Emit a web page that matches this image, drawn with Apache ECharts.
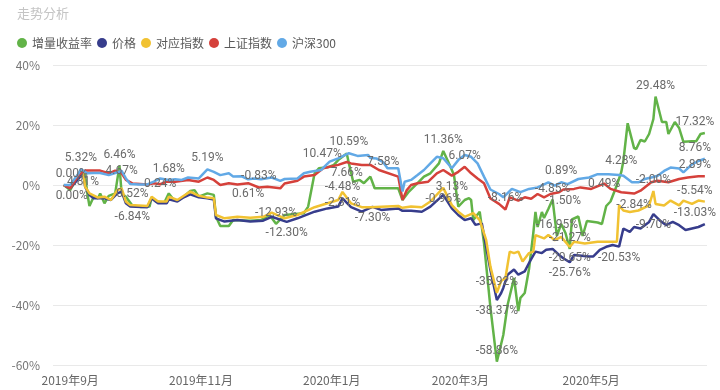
<!DOCTYPE html>
<html>
<head>
<meta charset="utf-8">
<script src="https://cdn.jsdelivr.net/npm/echarts@6/dist/echarts.min.js"></script>
<style>html,body{margin:0;padding:0;background:#fff;}#chart{width:720px;height:390px;}</style>
</head>
<body>
<div id="chart"></div>
<script>
const titleText = '走势分析';
const seriesNames = ['增量收益率', '价格', '对应指数', '上证指数', '沪深300'];
const xTickLabels = ['2019-09-01', '2019-11-01', '2020-01-01', '2020-03-01', '2020-05-01'];
const xRange = ['2019-08-24', '2020-06-24'];
const yTicks = [-60, -40, -20, 0, 20, 40];

const greenData = [['2019-08-29',0],['2019-09-01',-1.7],['2019-09-04',2.2],['2019-09-06',5],['2019-09-08',3.3],['2019-09-09',-2.8],['2019-09-10',-7],['2019-09-12',-3.9],['2019-09-14',-4.4],['2019-09-15',-2.8],['2019-09-17',-6.1],['2019-09-19',-3.6],['2019-09-22',-2.8],['2019-09-24',6.46],['2019-09-25',-2.8],['2019-09-27',-3.9],['2019-09-30',-6.84],['2019-10-04',-7.3],['2019-10-08',-7.2],['2019-10-09',-4.2],['2019-10-11',-5.5],['2019-10-15',-5.8],['2019-10-17',-2.8],['2019-10-19',-4.7],['2019-10-21',-5.3],['2019-10-24',-3.9],['2019-10-27',-2],['2019-10-29',-1.7],['2019-10-31',-3.9],['2019-11-04',-2.8],['2019-11-07',-3.3],['2019-11-08',-10.6],['2019-11-10',-13.7],['2019-11-14',-13.7],['2019-11-16',-11.7],['2019-11-24',-11.9],['2019-11-29',-11.7],['2019-12-03',-10],['2019-12-06',-12.93],['2019-12-10',-10],['2019-12-19',-9.4],['2019-12-21',-7.2],['2019-12-24',3.9],['2019-12-26',5.6],['2019-12-30',5.9],['2020-01-02',6.7],['2020-01-04',8.3],['2020-01-06',9.4],['2020-01-08',10.47],['2020-01-09',7.2],['2020-01-11',1.1],['2020-01-14',1.7],['2020-01-16',0.6],['2020-01-19',2.8],['2020-01-21',-1.1],['2020-02-01',-1.1],['2020-02-03',-5],['2020-02-06',-2.2],['2020-02-10',0.6],['2020-02-13',2.8],['2020-02-16',3.9],['2020-02-20',7.2],['2020-02-22',11.36],['2020-02-25',6.7],['2020-02-27',3.3],['2020-02-29',-7.2],['2020-03-03',-5],['2020-03-05',-4.4],['2020-03-06',-5],['2020-03-07',-11.7],['2020-03-10',-8.9],['2020-03-12',-19.4],['2020-03-15',-40.9],['2020-03-18',-58.86],['2020-03-19',-56],['2020-03-21',-50],['2020-03-23',-40],['2020-03-26',-31],['2020-03-28',-42],['2020-03-29',-37.6],['2020-03-31',-36],['2020-04-02',-28],['2020-04-04',-16],['2020-04-05',-9],['2020-04-06',-14],['2020-04-08',-9],['2020-04-09',-11],['2020-04-11',-8],['2020-04-13',-4.85],['2020-04-15',-16.95],['2020-04-17',-13],['2020-04-19',-16],['2020-04-21',-21.27],['2020-04-22',-11.5],['2020-04-25',-10.5],['2020-04-27',-17],['2020-04-29',-12],['2020-05-04',-12.5],['2020-05-06',-13],['2020-05-08',-7],['2020-05-10',-5.5],['2020-05-13',0],['2020-05-15',4.28],['2020-05-16',8],['2020-05-18',20.6],['2020-05-21',12.3],['2020-05-22',12],['2020-05-24',15],['2020-05-26',14.5],['2020-05-28',17],['2020-05-30',22],['2020-05-31',29.48],['2020-06-03',21],['2020-06-05',21],['2020-06-06',17],['2020-06-09',21],['2020-06-11',19],['2020-06-13',14.4],['2020-06-17',14.6],['2020-06-19',14.6],['2020-06-21',17],['2020-06-23',17.32]];

const navyData = [['2019-08-29',0],['2019-09-01',-1.1],['2019-09-05',2.2],['2019-09-07',3.9],['2019-09-08',-0.6],['2019-09-10',-3.3],['2019-09-12',-4.4],['2019-09-17',-4.4],['2019-09-20',-5],['2019-09-23',-2.8],['2019-09-25',-2.2],['2019-09-27',-6.1],['2019-09-29',-7.2],['2019-10-07',-7.4],['2019-10-09',-4.4],['2019-10-12',-6.1],['2019-10-16',-6.1],['2019-10-17',-4.8],['2019-10-21',-5.5],['2019-10-24',-4.1],['2019-10-27',-3.1],['2019-10-31',-4.1],['2019-11-04',-4.4],['2019-11-07',-4.8],['2019-11-08',-11.1],['2019-11-12',-12.2],['2019-11-18',-11.7],['2019-11-24',-12.2],['2019-11-30',-11.9],['2019-12-04',-10.6],['2019-12-11',-12.3],['2019-12-16',-11.1],['2019-12-24',-8.9],['2019-12-30',-7.8],['2020-01-04',-7.2],['2020-01-06',-4.48],['2020-01-10',-7.4],['2020-01-15',-8.9],['2020-01-20',-7.3],['2020-01-24',-8.3],['2020-02-01',-7.8],['2020-02-03',-8.6],['2020-02-07',-8.6],['2020-02-12',-8.9],['2020-02-16',-7.2],['2020-02-22',-3.3],['2020-02-26',-7.8],['2020-02-29',-10],['2020-03-03',-11.7],['2020-03-06',-11.1],['2020-03-08',-13.3],['2020-03-11',-12.8],['2020-03-13',-20.6],['2020-03-15',-28.3],['2020-03-18',-38.37],['2020-03-20',-36],['2020-03-21',-34.3],['2020-03-23',-29.9],['2020-03-26',-28.2],['2020-03-28',-29.9],['2020-03-31',-28.8],['2020-04-02',-26],['2020-04-05',-22.2],['2020-04-08',-22.7],['2020-04-10',-21.6],['2020-04-13',-21.3],['2020-04-16',-23.3],['2020-04-18',-24.4],['2020-04-21',-25.76],['2020-04-23',-23.3],['2020-04-30',-23.8],['2020-05-02',-23.8],['2020-05-05',-21.6],['2020-05-08',-20.6],['2020-05-11',-20],['2020-05-14',-20.53],['2020-05-16',-14.5],['2020-05-19',-15.6],['2020-05-21',-14],['2020-05-24',-14.5],['2020-05-28',-12.3],['2020-05-30',-9.7],['2020-06-02',-11.8],['2020-06-05',-13.4],['2020-06-08',-12.3],['2020-06-11',-13.4],['2020-06-14',-15],['2020-06-17',-14.5],['2020-06-20',-14],['2020-06-23',-13.03]];

const yellowData = [['2019-08-29',0],['2019-09-01',-0.6],['2019-09-05',3.9],['2019-09-07',4.81],['2019-09-08',-0.6],['2019-09-10',-2.8],['2019-09-14',-4.2],['2019-09-17',-3.9],['2019-09-20',-5],['2019-09-23',-1.7],['2019-09-25',-1.1],['2019-09-27',-5.5],['2019-09-29',-6.7],['2019-10-07',-7],['2019-10-09',-3.9],['2019-10-12',-5.5],['2019-10-16',-5.5],['2019-10-17',-3.9],['2019-10-21',-5],['2019-10-24',-3.6],['2019-10-27',-2.2],['2019-10-31',-3.6],['2019-11-04',-4.2],['2019-11-07',-4.4],['2019-11-08',-10],['2019-11-12',-11.1],['2019-11-18',-10.6],['2019-11-24',-10.9],['2019-11-30',-10.6],['2019-12-04',-9.2],['2019-12-10',-11.1],['2019-12-16',-10],['2019-12-24',-7.4],['2019-12-30',-6.1],['2020-01-04',-5],['2020-01-06',-2.31],['2020-01-10',-6.1],['2020-01-15',-7.4],['2020-01-19',-7.4],['2020-02-01',-7],['2020-02-03',-7.6],['2020-02-07',-7.2],['2020-02-12',-7.4],['2020-02-16',-5.5],['2020-02-22',-0.96],['2020-02-26',-6.7],['2020-02-29',-8.9],['2020-03-03',-10.6],['2020-03-07',-9.4],['2020-03-10',-11.7],['2020-03-13',-18.3],['2020-03-15',-27.2],['2020-03-18',-35.92],['2020-03-20',-32],['2020-03-22',-31],['2020-03-24',-22.2],['2020-03-26',-22.7],['2020-03-28',-22.2],['2020-03-30',-25.5],['2020-04-02',-22.7],['2020-04-04',-22.2],['2020-04-05',-16.7],['2020-04-09',-17.8],['2020-04-11',-16.7],['2020-04-14',-18.4],['2020-04-17',-17.3],['2020-04-21',-20.65],['2020-04-23',-18.9],['2020-04-28',-19.5],['2020-05-04',-18.9],['2020-05-13',-18.9],['2020-05-14',-6.8],['2020-05-16',-8.5],['2020-05-19',-9],['2020-05-23',-8.5],['2020-05-28',-6.8],['2020-05-30',-2],['2020-05-31',-6.3],['2020-06-04',-6.8],['2020-06-07',-5.2],['2020-06-11',-6.8],['2020-06-13',-5.2],['2020-06-17',-6.3],['2020-06-20',-5.2],['2020-06-23',-5.54]];

const redData = [['2019-08-29',0],['2019-09-01',-1.1],['2019-09-05',3.3],['2019-09-08',4.8],['2019-09-15',4.8],['2019-09-19',3.9],['2019-09-22',4.8],['2019-09-25',3.9],['2019-09-27',1.7],['2019-09-30',0.52],['2019-10-07',0.2],['2019-10-10',0.6],['2019-10-13',0.24],['2019-10-16',1.1],['2019-10-20',1.1],['2019-10-26',1.7],['2019-10-31',1.1],['2019-11-04',2.5],['2019-11-07',1.7],['2019-11-10',0],['2019-11-14',0.6],['2019-11-18',0.2],['2019-11-23',0.61],['2019-11-28',-0.83],['2019-12-02',-0.6],['2019-12-08',-1.1],['2019-12-10',0.5],['2019-12-16',1.4],['2019-12-19',2.8],['2019-12-24',3.3],['2019-12-28',5.6],['2020-01-04',6.7],['2020-01-08',7.66],['2020-01-10',7.2],['2020-01-15',6.7],['2020-01-19',6.7],['2020-01-23',5],['2020-02-01',2.8],['2020-02-03',-5],['2020-02-05',-1.7],['2020-02-07',0],['2020-02-10',0.6],['2020-02-15',1.1],['2020-02-19',3.9],['2020-02-22',5],['2020-02-26',3.13],['2020-02-29',4.4],['2020-03-03',6.07],['2020-03-06',3.9],['2020-03-09',2.2],['2020-03-12',0.6],['2020-03-15',-4.5],['2020-03-19',-6.3],['2020-03-22',-8.16],['2020-03-24',-4.1],['2020-03-28',-5.2],['2020-03-31',-4.1],['2020-04-03',-4.6],['2020-04-06',-3],['2020-04-09',-4.1],['2020-04-12',-3],['2020-04-16',-2.4],['2020-04-18',-1.5],['2020-04-23',-1.3],['2020-04-26',-0.8],['2020-05-01',-1.3],['2020-05-07',0.49],['2020-05-10',-1.3],['2020-05-15',-2.4],['2020-05-21',-2.84],['2020-05-24',-1.9],['2020-05-29',0.9],['2020-06-01',1.4],['2020-06-06',0.9],['2020-06-11',2],['2020-06-15',2.5],['2020-06-20',2.9],['2020-06-23',2.89]];

const blueData = [['2019-08-29',0],['2019-09-01',0],['2019-09-05',3.9],['2019-09-06',5.32],['2019-09-09',3.9],['2019-09-12',4],['2019-09-15',4],['2019-09-19',3.3],['2019-09-22',4],['2019-09-25',4.67],['2019-09-27',2.2],['2019-09-29',0.3],['2019-10-03',0.2],['2019-10-07',0.2],['2019-10-10',1.1],['2019-10-13',2.2],['2019-10-17',1.68],['2019-10-20',1.9],['2019-10-23',1.7],['2019-10-26',2.5],['2019-10-31',2.2],['2019-11-04',5.19],['2019-11-07',4.4],['2019-11-10',3.3],['2019-11-14',3.9],['2019-11-16',2.8],['2019-11-20',2.9],['2019-11-23',1.9],['2019-11-26',2.2],['2019-11-29',1.9],['2019-12-04',2.5],['2019-12-08',1.4],['2019-12-10',2],['2019-12-16',2.2],['2019-12-19',3.9],['2019-12-22',4.4],['2019-12-27',5],['2019-12-31',7.8],['2020-01-04',8.9],['2020-01-09',10.59],['2020-01-13',9.7],['2020-01-18',10],['2020-01-19',9],['2020-01-22',8.8],['2020-01-25',7.58],['2020-01-27',5.6],['2020-02-01',5.6],['2020-02-03',-2.2],['2020-02-04',1.1],['2020-02-07',1.7],['2020-02-10',3.3],['2020-02-13',5],['2020-02-16',7.2],['2020-02-19',9.4],['2020-02-22',8.9],['2020-02-26',5.6],['2020-02-29',8.3],['2020-03-03',10],['2020-03-06',9.4],['2020-03-09',7.2],['2020-03-12',2.8],['2020-03-15',-1.5],['2020-03-19',-3],['2020-03-21',-4.1],['2020-03-25',-1.3],['2020-03-29',-2.4],['2020-04-02',-1.3],['2020-04-06',-0.8],['2020-04-11',0.9],['2020-04-14',-0.2],['2020-04-17',0.89],['2020-04-20',0.3],['2020-04-25',2],['2020-04-30',2.5],['2020-05-04',3.6],['2020-05-09',3.6],['2020-05-14',3.3],['2020-05-16',3.1],['2020-05-20',0.9],['2020-05-23',0.9],['2020-05-26',2],['2020-05-29',2.5],['2020-06-01',3.1],['2020-06-04',4.7],['2020-06-07',5.8],['2020-06-11',5.5],['2020-06-13',4.2],['2020-06-17',6.9],['2020-06-20',8],['2020-06-23',8.76]];

// which points carry a visible value label, and where it sits
const labelPlan = [
  {'2019-08-29':'top','2019-09-24':'top','2019-09-30':'bottom','2019-12-06':'top','2020-01-08':'left','2020-02-22':'top','2020-03-18':'top','2020-04-13':'top','2020-04-15':'top','2020-04-21':'top','2020-05-15':'top','2020-05-31':'top','2020-06-23':'top'},
  {'2019-08-29':'bottom','2019-12-11':'bottom','2020-01-06':'top','2020-01-20':'bottom','2020-03-18':'bottom','2020-04-21':'bottom','2020-05-14':'bottom','2020-05-30':'bottom','2020-06-23':'top'},
  {'2019-09-07':'bottom','2020-01-06':'bottom','2020-02-22':'bottom','2020-03-18':'top','2020-04-21':'bottom','2020-05-30':'top','2020-06-23':'top'},
  {'2019-09-30':'bottom','2019-10-13':'inside','2019-11-23':'bottom','2019-11-28':'top','2020-01-08':'bottom','2020-02-26':'bottom','2020-03-03':'top','2020-03-22':'top','2020-04-18':'bottom','2020-05-07':'inside','2020-05-21':'bottom','2020-06-23':'top'},
  {'2019-09-06':'top','2019-09-25':'inside','2019-10-17':'top','2019-11-04':'top','2020-01-09':'top','2020-01-25':'inside','2020-04-17':'top','2020-06-23':'top'}
];

const seriesData = [greenData, navyData, yellowData, redData, blueData];
const colors = ['#62b348', '#373d8c', '#f1c232', '#d5413b', '#62a9e6'];

function toTs(s) {
  const p = s.split('-').map(Number);
  return new Date(p[0], p[1] - 1, p[2]).getTime();
}
const shownTicks = xTickLabels.map(toTs);
const DAY = 86400000;

const chart = echarts.init(document.getElementById('chart'), null, {renderer: 'canvas'});

const series = seriesNames.map((name, si) => {
  const arr = seriesData[si];
  const plan = labelPlan[si];
  return {
    name: name,
    type: 'line',
    symbol: 'circle',
    symbolSize: 0,
    showSymbol: true,
    showAllSymbol: true,
    lineStyle: {width: 2.5, color: colors[si]},
    itemStyle: {color: colors[si]},
    emphasis: {disabled: true},
    label: {
      show: false,
      color: '#6a6a6a',
      fontSize: 12,
      fontFamily: 'Roboto, "Noto Sans", sans-serif',
      formatter: p => p.value[1].toFixed(2) + '%'
    },
    data: arr.map((d, i) => {
      const pos = plan[d[0]];
      if (!pos) return {value: [d[0], d[1]]};
      let offset = [0, 0];
      if (i === 0) offset = [8, 0];
      if (i === arr.length - 1) offset = [-10, 0];
      return {value: [d[0], d[1]], label: {show: true, position: pos, offset: offset}};
    })
  };
});

chart.setOption({
  animation: false,
  color: colors,
  title: {
    text: titleText, left: 12, top: 2,
    textStyle: {color: '#c4c4c4', fontSize: 13, fontWeight: 'normal', fontFamily: '"Noto Sans CJK SC", sans-serif'}
  },
  legend: {
    data: seriesNames, left: 12, top: 32, icon: 'circle', itemWidth: 10, itemHeight: 10, itemGap: 5,
    textStyle: {color: '#595959', fontSize: 12, fontFamily: '"Noto Sans CJK SC", sans-serif'}
  },
  grid: {left: 53, right: 13, top: 65, bottom: 25, containLabel: false},
  xAxis: {
    type: 'time',
    min: toTs(xRange[0]),
    max: toTs(xRange[1]),
    minInterval: 28 * DAY,
    maxInterval: 31 * DAY,
    axisLine: {show: false},
    axisTick: {show: false},
    splitLine: {show: false},
    axisLabel: {
      color: '#666', fontSize: 12, margin: 9, hideOverlap: false,
      fontFamily: '"Noto Sans CJK SC", sans-serif',
      formatter: v => {
        const d = new Date(v);
        const t = new Date(d.getFullYear(), d.getMonth(), d.getDate()).getTime();
        if (shownTicks.indexOf(t) < 0) return '';
        return d.getFullYear() + '年' + (d.getMonth() + 1) + '月';
      }
    }
  },
  yAxis: {
    type: 'value',
    min: yTicks[0], max: yTicks[yTicks.length - 1], interval: 20,
    axisLine: {show: false},
    axisTick: {show: false},
    splitLine: {lineStyle: {color: '#e9e9e9', width: 1}},
    axisLabel: {formatter: '{value}%', color: '#777', fontSize: 12, margin: 13, fontFamily: '"Noto Sans CJK SC", sans-serif'}
  },
  series: series
});
</script>
</body>
</html>
